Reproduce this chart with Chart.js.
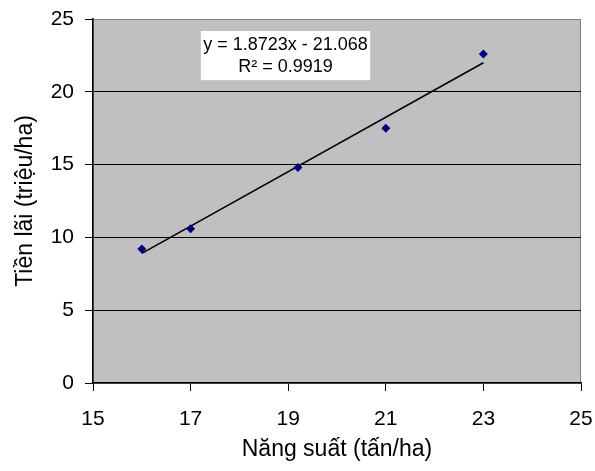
<!DOCTYPE html>
<html>
<head>
<meta charset="utf-8">
<script src="https://cdn.jsdelivr.net/npm/chart.js@4/dist/chart.umd.min.js"></script>
<style>
  html, body { margin: 0; padding: 0; background: #fff; }
  #wrap { width: 595px; height: 471px; }
</style>
</head>
<body>
<div id="wrap"><canvas id="chart" width="595" height="471"></canvas></div>
<script>
// data
const yieldVals = [16, 17, 19.2, 21, 23];        // Năng suất (tấn/ha)
const profitVals = [9.2, 10.6, 14.8, 17.5, 22.6]; // Tiền lãi (triệu/ha)
const trendX = [16, 23];
const trendY = [8.9, 22.0];
const eqLines = ['y = 1.8723x - 21.068', 'R² = 0.9919'];

const points = yieldVals.map((x, i) => ({ x: x, y: profitVals[i] }));
const trend = trendX.map((x, i) => ({ x: x, y: trendY[i] }));

const FONT = "'Liberation Sans', Arial, sans-serif";

const plotBg = {
    id: 'plotBg',
    beforeDraw(chart) {
        const { ctx, chartArea: a } = chart;
        ctx.save();
        ctx.fillStyle = '#c0c0c0';
        ctx.fillRect(a.left, a.top, a.right - a.left, a.bottom - a.top);
        ctx.strokeStyle = '#808080';
        ctx.lineWidth = 1;
        ctx.strokeRect(a.left + 0.5, a.top + 0.5, a.right - a.left - 1, a.bottom - a.top);
        ctx.restore();
    },
    afterDraw(chart) {
        // equation label box
        const { ctx, chartArea: a } = chart;
        const w = a.right - a.left, h = a.bottom - a.top;
        const bx = a.left + w * 0.221, by = a.top + h * 0.033;
        const bw = w * 0.347, bh = h * 0.135;
        ctx.save();
        ctx.fillStyle = '#fff';
        ctx.fillRect(bx, by, bw, bh);
        ctx.fillStyle = '#000';
        ctx.font = '18px ' + FONT;
        ctx.textAlign = 'center';
        ctx.textBaseline = 'middle';
        ctx.fillText(eqLines[0], bx + bw / 2, by + bh * 0.28);
        ctx.fillText(eqLines[1], bx + bw / 2, by + bh * 0.74);
        ctx.restore();
    }
};

new Chart(document.getElementById('chart').getContext('2d'), {
    type: 'scatter',
    data: {
        datasets: [{
            label: 'data',
            data: points,
            pointStyle: 'rectRot',
            pointRadius: 4.5,
            backgroundColor: '#000080',
            borderColor: '#000080',
            borderWidth: 0
        }, {
            label: 'trend',
            type: 'line',
            data: trend,
            showLine: true,
            pointRadius: 0,
            borderColor: '#000',
            borderWidth: 1.6,
            fill: false
        }]
    },
    options: {
        responsive: false,
        animation: false,
        layout: { padding: { top: 19, right: 14, left: 0, bottom: 0 } },
        plugins: {
            legend: { display: false },
            tooltip: { enabled: false }
        },
        scales: {
            x: {
                type: 'linear',
                min: 15,
                max: 25,
                ticks: { stepSize: 2, color: '#000', padding: 16, font: { family: FONT, size: 21 } },
                grid: { drawOnChartArea: false, tickLength: 8, tickColor: '#000' },
                border: { color: '#000', width: 1.5 },
                title: { display: true, text: 'Năng suất (tấn/ha)', color: '#000', font: { family: FONT, size: 23 }, padding: { top: 0, bottom: 8 } },
                afterFit(scale) {
                    scale.height = 88;
                    scale.paddingLeft = 0;
                    scale.paddingRight = 0;
                }
            },
            y: {
                min: 0,
                max: 25,
                ticks: { stepSize: 5, color: '#000', padding: 11, font: { family: FONT, size: 21 } },
                grid: {
                    color: ctx => (ctx.tick && (ctx.tick.value === 0 || ctx.tick.value === 25)) ? 'rgba(0,0,0,0)' : '#000',
                    lineWidth: 1,
                    tickLength: 8,
                    tickColor: '#000'
                },
                border: { color: '#000', width: 1.5 },
                title: { display: true, text: 'Tiền lãi (triệu/ha)', color: '#000', font: { family: FONT, size: 23 }, padding: { top: 12, bottom: 0 } },
                afterFit(scale) {
                    scale.width = 93;
                    scale.paddingTop = 0;
                    scale.paddingBottom = 0;
                }
            }
        }
    },
    plugins: [plotBg]
});
</script>
</body>
</html>
